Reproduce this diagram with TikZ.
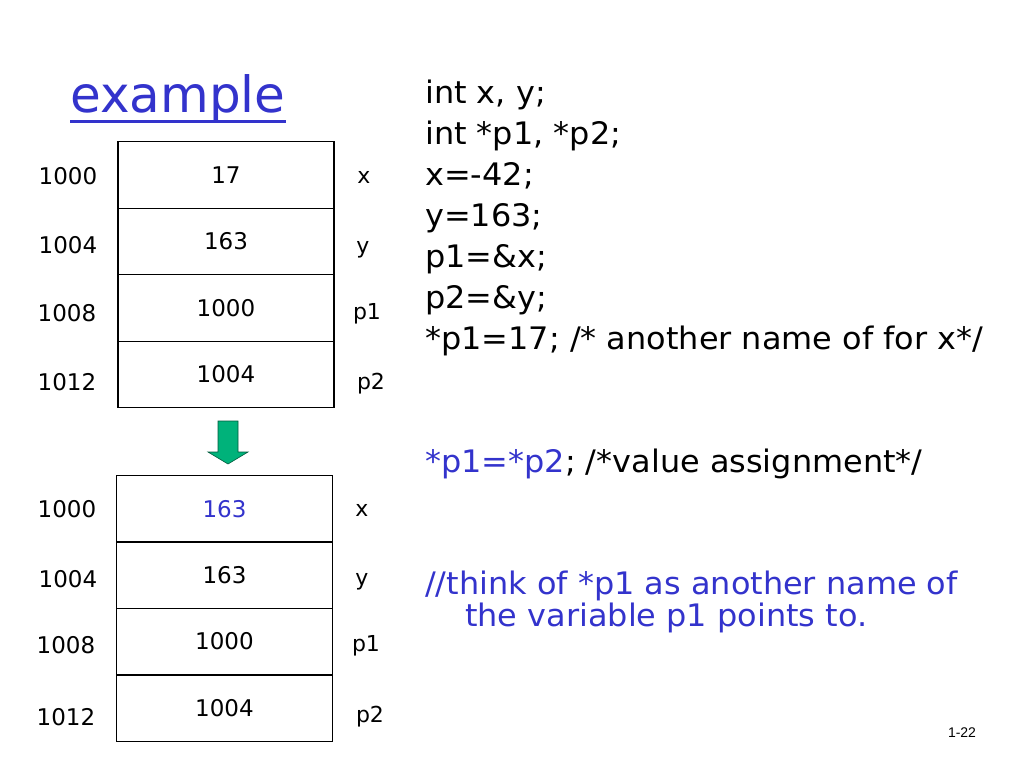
\documentclass[tikz,border=0pt]{standalone}
\usepackage{fontspec}
\usetikzlibrary{calc}
\setmainfont{DejaVu Sans}
\newfontfamily\codefont[FakeStretch=1.03]{DejaVu Sans}
\newfontfamily\pgfont{Liberation Sans}
\definecolor{slideblue}{RGB}{51,51,204}
\definecolor{arrowgreen}{RGB}{0,178,122}
\definecolor{arrowedge}{RGB}{0,90,60}
\begin{document}
\begin{tikzpicture}[x=1pt,y=-1pt,
  cell/.style={draw=black,line width=1.1pt,minimum width=216pt,minimum height=66.5pt,inner sep=0pt,font=\fontsize{23}{26}\selectfont},
  addr/.style={inner sep=0pt,font=\fontsize{23}{26}\selectfont},
  vname/.style={inner sep=0pt,font=\fontsize{22}{25}\selectfont},
  code/.style={anchor=base west,inner sep=0pt,font=\codefont\fontsize{31}{35}\selectfont},
  bluecode/.style={code,text=slideblue}]
\useasboundingbox (0,0) rectangle (1024,768);
% title
\node[anchor=base west,inner sep=0pt,text=slideblue,font=\fontsize{50}{58}\selectfont] (title) at (70,112) {example};
\draw[slideblue,line width=3pt] ($(title.base west)+(0,9)$) coordinate (ul1) -- ($(title.base east)+(0,9)$) coordinate (ul2);
% top memory
\node[cell] (t1) at (226,175) {17};
\node[cell] (t2) at (226,241.5) {163};
\node[cell] (t3) at (226,308) {1000};
\node[cell] (t4) at (226,374.5) {1004};
\node[addr] (ta1) at (68,176) {1000};
\node[addr] (ta2) at (68,245) {1004};
\node[addr] (ta3) at (67,313) {1008};
\node[addr] (ta4) at (67,382) {1012};
\node[vname] (tn1) at (364,177) {x};
\node[vname] (tn2) at (363,250) {y};
\node[vname] (tn3) at (367,314) {p1};
\node[vname] (tn4) at (371,384) {p2};
% green arrow
\filldraw[fill=arrowgreen,draw=arrowedge,line width=0.6pt]
  (218,421) -- (238,421) -- (238,452) -- (248,452) -- (228,464) -- (208,452) -- (218,452) -- cycle;
% bottom memory
\node[cell] (b1) at (224.5,509) {\textcolor{slideblue}{163}};
\node[cell] (b2) at (224.5,575) {163};
\node[cell] (b3) at (224.5,641.5) {1000};
\node[cell] (b4) at (224.5,708.5) {1004};
\node[addr] (ba1) at (67,509) {1000};
\node[addr] (ba2) at (68,579) {1004};
\node[addr] (ba3) at (66,645) {1008};
\node[addr] (ba4) at (66,717) {1012};
\node[vname] (bn1) at (362,510) {x};
\node[vname] (bn2) at (362,582) {y};
\node[vname] (bn3) at (366,646) {p1};
\node[vname] (bn4) at (370,717) {p2};
% code
\node[code] (c1) at (425,103) {int x, y;};
\node[code] (c2) at (425,144) {int *p1, *p2;};
\node[code] (c3) at (425,185) {x=-42;};
\node[code] (c4) at (425,226) {y=163;};
\node[code] (c5) at (425,267) {p1=\&x;};
\node[code] (c6) at (425,308) {p2=\&y;};
\node[code] (c7) at (425,349) {*p1=17; /* another name of for x*/};
\node[code] (c8) at (425,472) {\textcolor{slideblue}{*p1=*p2}; /*value assignment*/};
\node[bluecode] (c9) at (425,594) {//think of *p1 as another name of};
\node[bluecode] (c10) at (465,626) {the variable p1 points to.};
% page number
\node[inner sep=0pt,font=\pgfont\fontsize{14}{16}\selectfont] (pg) at (962,733) {1-22};
\end{tikzpicture}
\end{document}
